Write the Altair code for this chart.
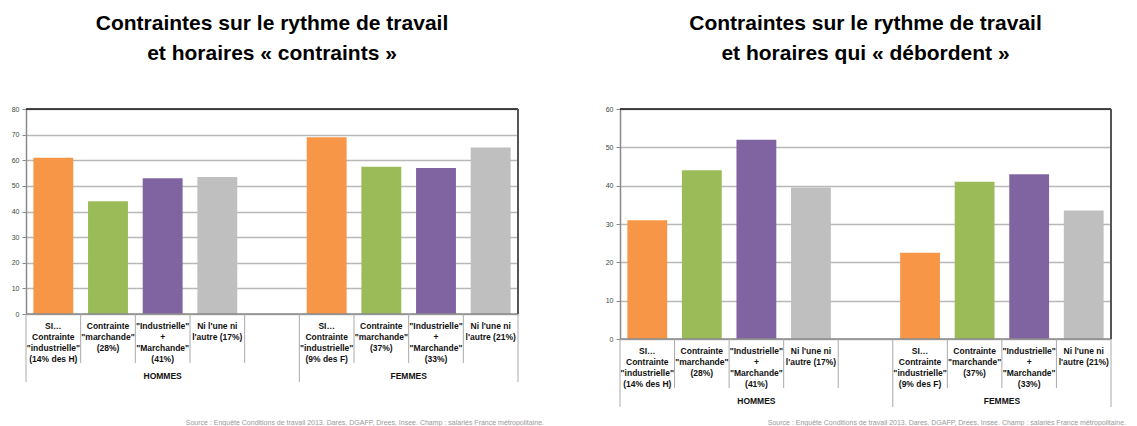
import altair as alt
import pandas as pd

# ---- data ----
slots = ["H1", "H2", "H3", "H4", "GAP", "F1", "F2", "F3", "F4"]
series = ["industrielle", "marchande", "les deux", "aucune"]
colors = ["#F79646", "#9BBB59", "#8064A2", "#BFBFBF"]
labels_H = ['SI…|Contrainte|"industrielle"|(14% des H)',
            'Contrainte|"marchande"|(28%)',
            '"Industrielle"|+|"Marchande"|(41%)',
            "Ni l'une ni|l'autre (17%)"]
labels_F = ['SI…|Contrainte|"industrielle"|(9% des F)',
            'Contrainte|"marchande"|(37%)',
            '"Industrielle"|+|"Marchande"|(33%)',
            "Ni l'une ni|l'autre (21%)"]
groups = ["HOMMES", "FEMMES"]
left_H = [61, 44, 53, 53.5]
left_F = [69, 57.5, 57, 65]
right_H = [31, 44, 52, 39.5]
right_F = [22.5, 41, 43, 33.5]
title_left = ["Contraintes sur le rythme de travail", "et horaires « contraints »"]
title_right = ["Contraintes sur le rythme de travail", "et horaires qui « débordent »"]
source = ("Source : Enquête Conditions de travail 2013. Dares, DGAFP, Drees, Insee. "
          "Champ : salariés France métropolitaine.")

NARROW = "Liberation Sans Narrow, Arial Narrow, Liberation Sans, Arial"


def panel(vals_H, vals_F, ymax, width, height, title_lines, src_dx, src_dy):
    bar_df = pd.DataFrame({
        "slot": slots[:4] + slots[5:],
        "series": series + series,
        "value": vals_H + vals_F,
    })
    lab_df = pd.DataFrame({"slot": slots[:4] + slots[5:], "label": labels_H + labels_F})
    short_df = pd.DataFrame({"slot": ["H2", "H3", "H4", "GAP", "F2", "F3", "F4"]})
    long_df = pd.DataFrame({"slot": ["H1", "F1"]})
    end_df = pd.DataFrame({"slot": ["F4"]})

    xs = alt.Scale(domain=slots, paddingInner=0, paddingOuter=0)
    x = alt.X("slot:N", scale=xs, axis=None)

    bars = alt.Chart(bar_df).mark_bar(width=alt.RelativeBandSize(0.73)).encode(
        x=x,
        y=alt.Y("value:Q", scale=alt.Scale(domain=[0, ymax], nice=False),
                axis=alt.Axis(values=list(range(0, ymax + 1, 10)), title=None,
                              grid=True, gridColor="#b8b8b8", gridWidth=1.5,
                              domainColor="#8a8a8a", domainWidth=1.5,
                              tickColor="#8a8a8a", tickSize=4, labelPadding=3,
                              labelFontSize=7, labelColor="#444",
                              labelFont="Liberation Sans")),
        color=alt.Color("series:N", scale=alt.Scale(domain=series, range=colors), legend=None),
    )

    top = alt.Chart(end_df).mark_rule(color="#111", strokeWidth=1.5).encode(
        x=alt.value(0), x2=alt.value(width), y=alt.value(0))
    zero = alt.Chart(end_df).mark_rule(color="#8a8a8a", strokeWidth=1.5).encode(
        x=alt.value(0), x2=alt.value(width), y=alt.value(height))
    right = alt.Chart(end_df).mark_rule(color="#555", strokeWidth=2).encode(
        x=alt.X("slot:N", scale=xs, axis=None, bandPosition=1),
        y=alt.value(0), y2=alt.value(height))

    short = alt.Chart(short_df).mark_rule(color="#aaaaaa", strokeWidth=1).encode(
        x=alt.X("slot:N", scale=xs, axis=None, bandPosition=0),
        y=alt.value(height), y2=alt.value(height + 49))
    long_ = alt.Chart(long_df).mark_rule(color="#aaaaaa", strokeWidth=1).encode(
        x=alt.X("slot:N", scale=xs, axis=None, bandPosition=0),
        y=alt.value(height), y2=alt.value(height + 68))
    long_end = alt.Chart(end_df).mark_rule(color="#aaaaaa", strokeWidth=1).encode(
        x=alt.X("slot:N", scale=xs, axis=None, bandPosition=1),
        y=alt.value(height), y2=alt.value(height + 68))

    labels = alt.Chart(lab_df).mark_text(
        baseline="top", fontSize=8.5, fontWeight="bold", lineBreak="|",
        lineHeight=11, font=NARROW, color="#111").encode(
        x=x, y=alt.value(height + 8), text="label:N")

    g_h = alt.Chart(pd.DataFrame({"slot": ["H3"], "g": [groups[0]]})).mark_text(
        baseline="middle", fontSize=8.5, fontWeight="bold", font=NARROW, color="#111").encode(
        x=alt.X("slot:N", scale=xs, axis=None, bandPosition=0.5),
        y=alt.value(height + 62), text="g:N")
    g_f = alt.Chart(pd.DataFrame({"slot": ["F3"], "g": [groups[1]]})).mark_text(
        baseline="middle", fontSize=8.5, fontWeight="bold", font=NARROW, color="#111").encode(
        x=alt.X("slot:N", scale=xs, axis=None, bandPosition=0),
        y=alt.value(height + 62), text="g:N")

    src = alt.Chart(pd.DataFrame({"src": [source]})).mark_text(
        align="right", baseline="bottom", fontSize=7, color="#999",
        font="Liberation Sans").encode(
        x=alt.value(width + src_dx), y=alt.value(height + src_dy), text="src:N")

    return alt.layer(bars, top, zero, right, short, long_, long_end, labels, g_h, g_f, src).properties(
        width=width, height=height,
        title=alt.TitleParams(text=title_lines, fontSize=21, font=NARROW, fontWeight="bold",
                              anchor="middle", frame="group", offset=41, lineHeight=30,
                              color="#000"))


left = panel(left_H, left_F, 80, 492, 205, title_left, 26, 112)
right = panel(right_H, right_F, 60, 491, 230, title_right, 15, 87)

chart = alt.hconcat(left, right, spacing=61).properties(
    padding={"left": 3, "top": 5, "right": 0, "bottom": 0}
).configure_view(stroke=None)

chart.save("out.html", embed_options={"renderer": "svg", "actions": False})
